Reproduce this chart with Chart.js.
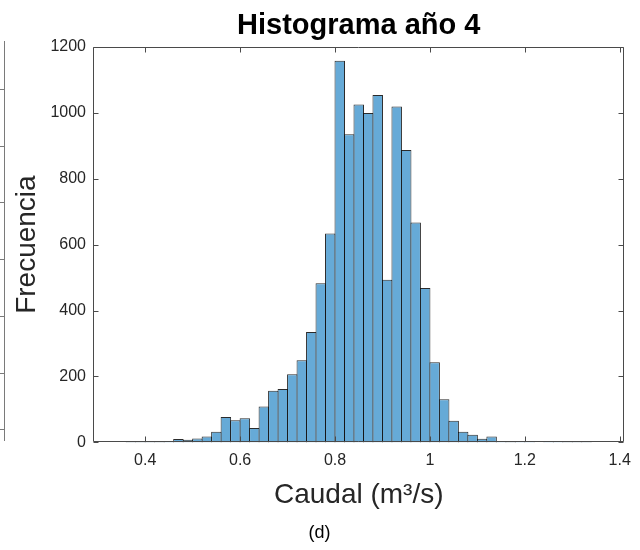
<!DOCTYPE html>
<html>
<head>
<meta charset="utf-8">
<script src="https://cdn.jsdelivr.net/npm/chart.js@4/dist/chart.umd.min.js"></script>
<style>
  html, body { margin: 0; padding: 0; background: #fff; }
  #caja { position: relative; width: 640px; height: 550px; }
  #vecino {
    position: absolute; left: 0; top: 41px; width: 4px; height: 400px;
    border-right: 1px solid #7a7a7a;
    background: repeating-linear-gradient(to bottom, transparent 0 48px, #7a7a7a 48px 49px, transparent 49px 56.7px);
  }
</style>
</head>
<body>
<div id="caja">
  <div id="vecino"></div>
  <canvas id="grafico" width="640" height="550"></canvas>
</div>
<script>
// centros de las clases (ancho 0.02)
const centros = [0.37, 0.39, 0.41, 0.43, 0.45, 0.47, 0.49, 0.51, 0.53, 0.55,
                 0.57, 0.59, 0.61, 0.63, 0.65, 0.67, 0.69, 0.71, 0.73, 0.75,
                 0.77, 0.79, 0.81, 0.83, 0.85, 0.87, 0.89, 0.91, 0.93, 0.95,
                 0.97, 0.99, 1.01, 1.03, 1.05, 1.07, 1.09, 1.11, 1.13, 1.15,
                 1.17, 1.19, 1.21, 1.23, 1.25, 1.27, 1.29, 1.31, 1.33];
const frecuencias = [1, 1, 1, 1, 3, 10, 8, 12, 18, 32,
                     77, 67, 73, 44, 109, 157, 162, 207, 249, 335,
                     483, 634, 1158, 935, 1025, 999, 1054, 493, 1019, 887,
                     667, 468, 243, 131, 66, 32, 23, 11, 18, 3,
                     1, 3, 3, 0, 2, 3, 1, 1, 1];
const ticksX = [0.4, 0.6, 0.8, 1.0, 1.2, 1.4];
const ticksY = [0, 200, 400, 600, 800, 1000, 1200];

const fuente = "'Liberation Sans', Arial, Helvetica, sans-serif";
const gris = '#262626';

// marco del eje con las marcas hacia dentro (estilo matlab)
const marco = {
  id: 'marco',
  afterDatasetsDraw(chart) {
    const { ctx, chartArea: a, scales: { x, y } } = chart;
    const l = Math.round(a.left) + 0.5, r = Math.round(a.right) - 0.5;
    const t = Math.round(a.top) + 0.5, b = Math.round(a.bottom) - 0.5;
    ctx.save();
    ctx.strokeStyle = '#4a4a4a';
    ctx.lineWidth = 1;
    ctx.beginPath();
    ctx.rect(l, t, r - l, b - t);
    x.ticks.forEach(tk => {
      const px = Math.round(x.getPixelForValue(tk.value)) + 0.5;
      ctx.moveTo(px, b); ctx.lineTo(px, b - 5);
      ctx.moveTo(px, t); ctx.lineTo(px, t + 5);
    });
    y.ticks.forEach(tk => {
      const py = Math.round(y.getPixelForValue(tk.value)) + 0.5;
      ctx.moveTo(l, py); ctx.lineTo(l + 5, py);
      ctx.moveTo(r, py); ctx.lineTo(r - 5, py);
    });
    ctx.stroke();
    ctx.restore();
  }
};

new Chart(document.getElementById('grafico'), {
  type: 'bar',
  data: {
    datasets: [{
      label: 'Frecuencia',
      data: centros.map((c, i) => ({ x: c, y: frecuencias[i] })),
      backgroundColor: 'rgb(102, 170, 215)',
      borderColor: 'rgba(20, 20, 20, 0.9)',
      borderWidth: 1,
      barPercentage: 1.106,
      categoryPercentage: 1
    }]
  },
  options: {
    responsive: false,
    animation: false,
    events: [],
    layout: { padding: { left: 10, right: 11, top: 0, bottom: 0 } },
    plugins: {
      legend: { display: false },
      tooltip: { enabled: false },
      title: {
        display: true,
        text: 'Histograma año 4',
        fullSize: false,
        color: '#000',
        font: { family: fuente, size: 29, weight: 'bold' },
        padding: { top: 9, bottom: 3 }
      },
      subtitle: {
        display: true,
        position: 'bottom',
        text: '(d)',
        color: '#000',
        font: { family: fuente, size: 18 },
        padding: { top: 6, bottom: 6 }
      }
    },
    scales: {
      x: {
        type: 'linear',
        min: 0.29,
        max: 1.41,
        offset: false,
        grid: { display: false, drawTicks: false },
        border: { display: false },
        afterBuildTicks: s => { s.ticks = ticksX.map(v => ({ value: v })); },
        afterFit: s => { s.height = 74; },
        ticks: {
          color: gris,
          padding: 9,
          font: { family: fuente, size: 16 },
          callback: v => String(Number(v.toFixed(1)))
        },
        title: {
          display: true,
          text: 'Caudal (m³/s)',
          color: gris,
          font: { family: fuente, size: 28 },
          padding: { top: 0, bottom: 4 }
        }
      },
      y: {
        min: 0,
        max: 1200,
        grid: { display: false, drawTicks: false },
        border: { display: false },
        afterBuildTicks: s => { s.ticks = ticksY.map(v => ({ value: v })); },
        afterFit: s => { s.width = 83; },
        ticks: {
          color: gris,
          padding: 7,
          font: { family: fuente, size: 16 },
          callback: v => String(v)
        },
        title: {
          display: true,
          text: 'Frecuencia',
          color: gris,
          font: { family: fuente, size: 28 },
          padding: { top: 0, bottom: 0 }
        }
      }
    }
  },
  plugins: [marco]
});
</script>
</body>
</html>
